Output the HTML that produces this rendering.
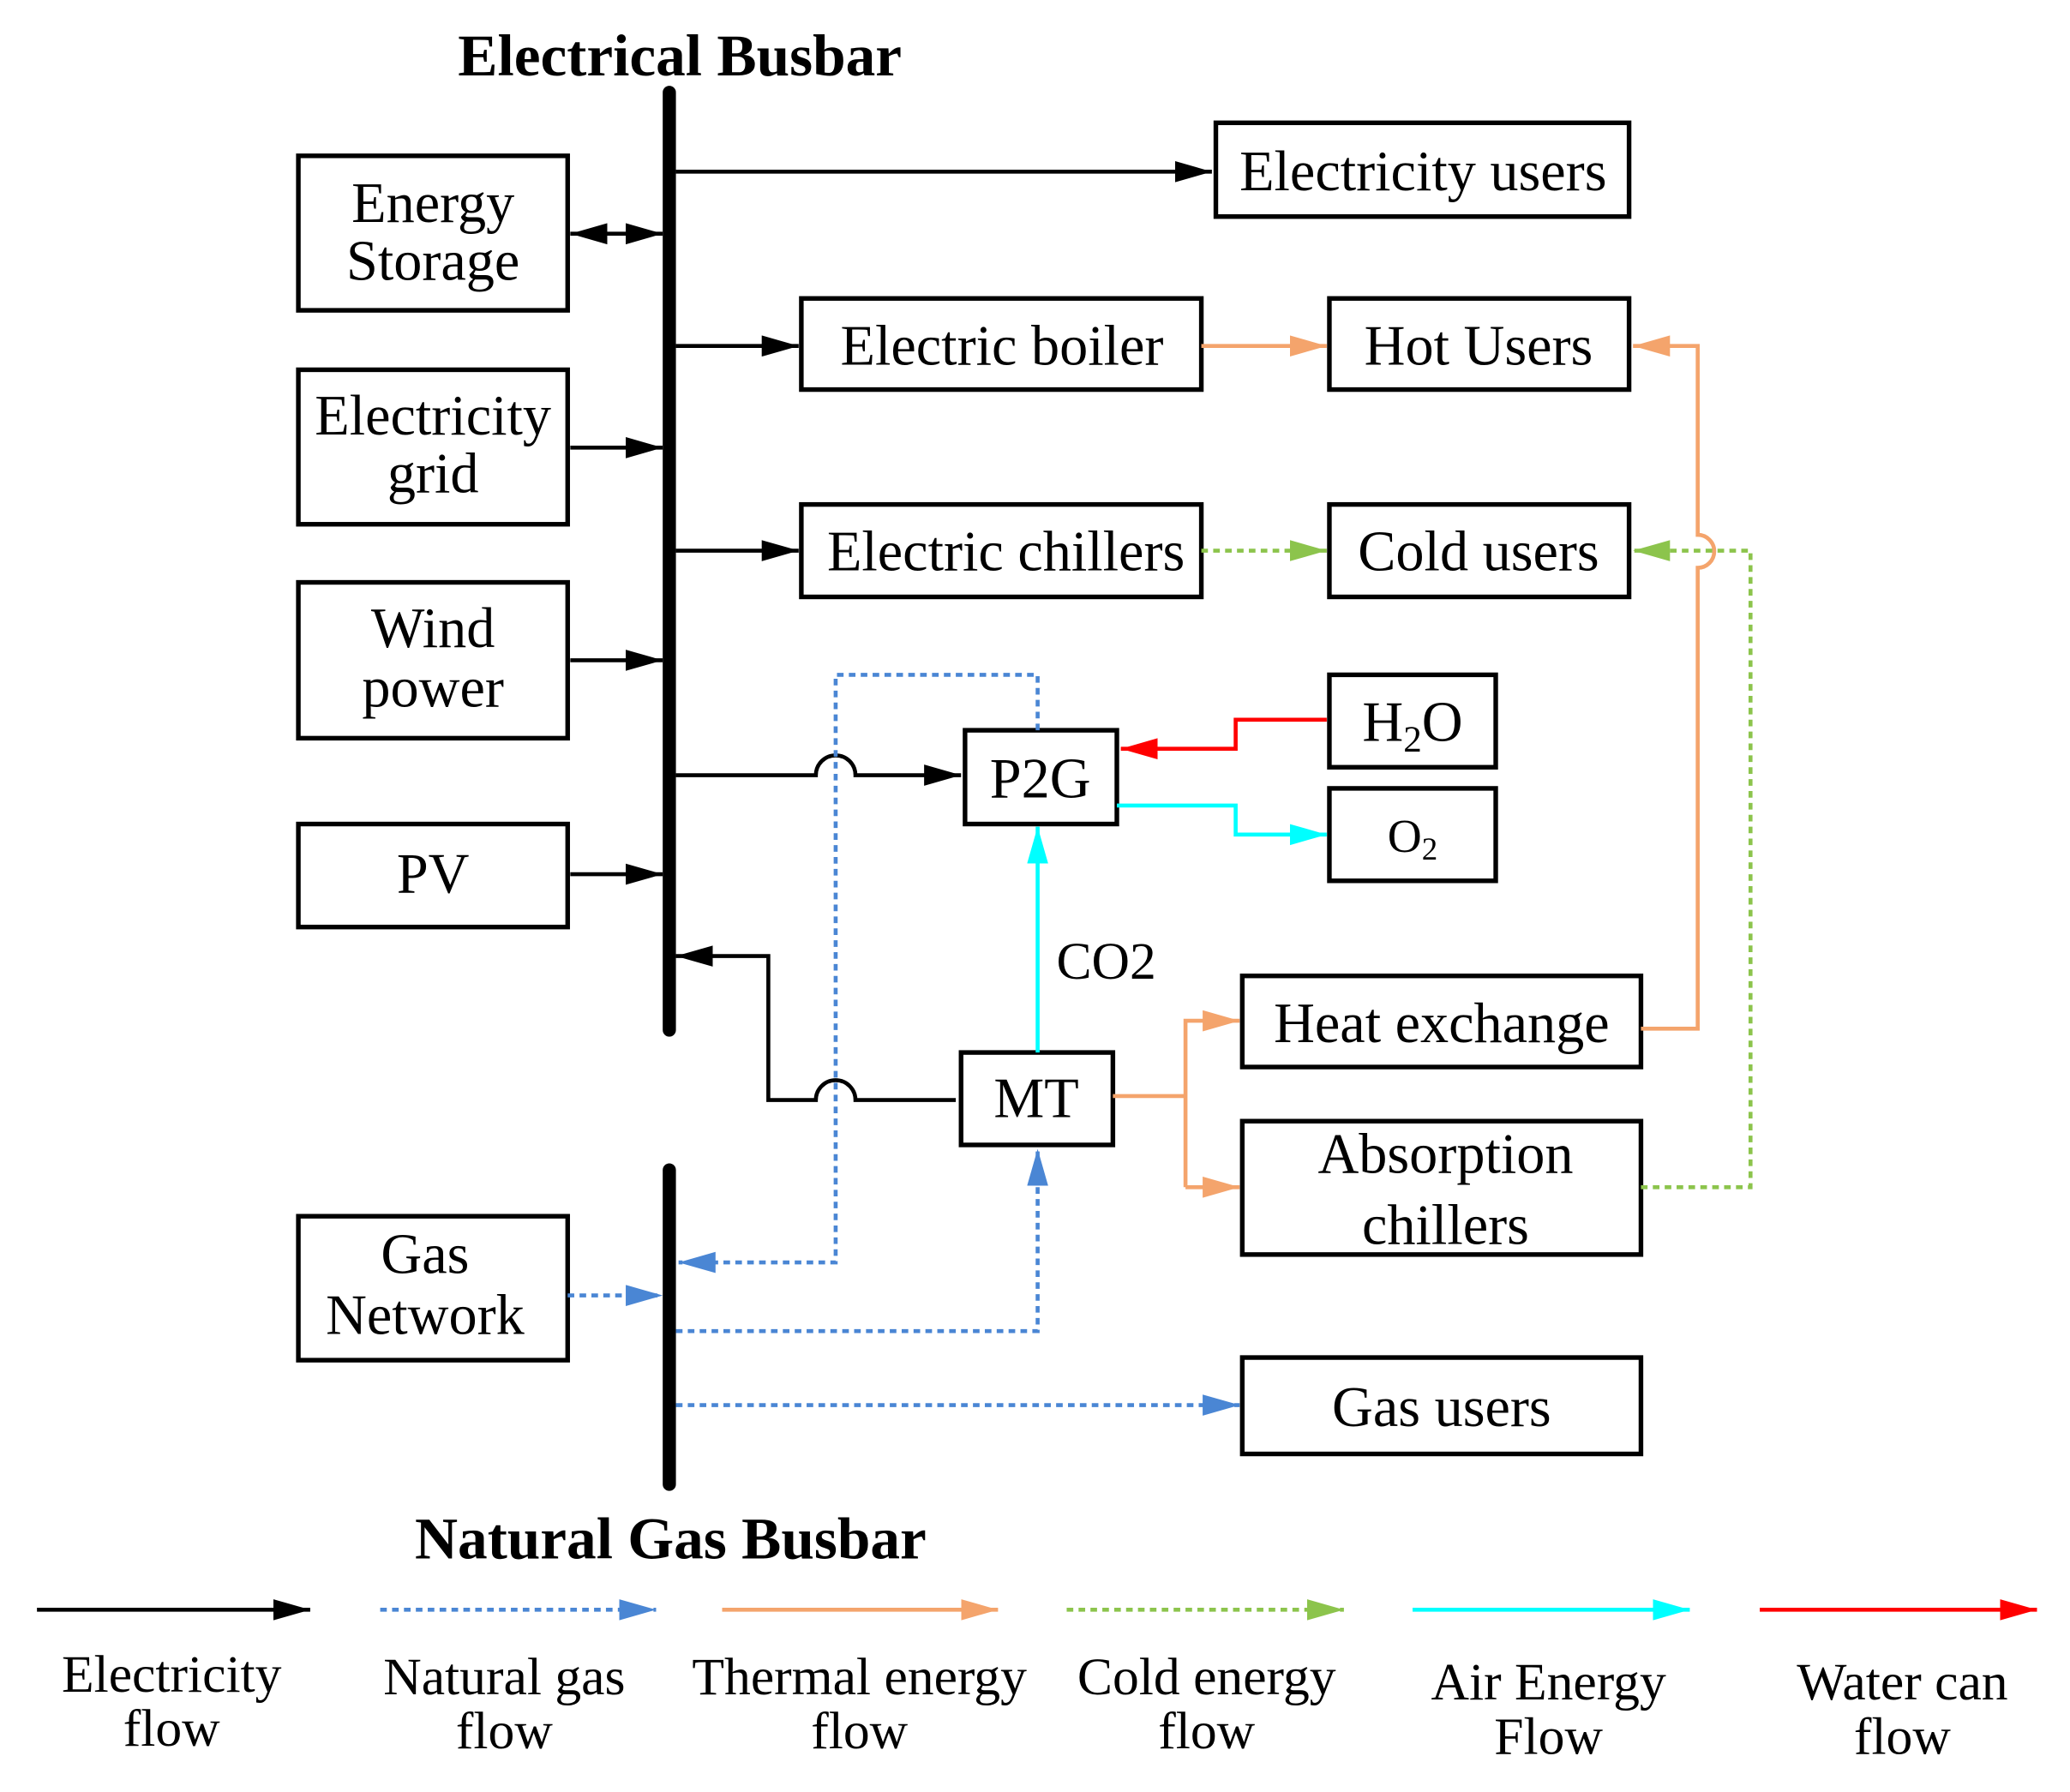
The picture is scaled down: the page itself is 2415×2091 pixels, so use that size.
<!DOCTYPE html>
<html><head><meta charset="utf-8"><style>html,body{margin:0;padding:0;background:#fff}svg{display:block}</style></head>
<body>
<svg width="2415" height="2091" viewBox="0 0 1568 1357" preserveAspectRatio="none" xmlns="http://www.w3.org/2000/svg" font-family="Liberation Serif, serif">
<defs>
<marker id="k" markerUnits="userSpaceOnUse" markerWidth="30" markerHeight="20" refX="28" refY="8" orient="auto"><path d="M0,0 L28,8 L0,16 Z" fill="#000"/></marker>
<marker id="ks" markerUnits="userSpaceOnUse" markerWidth="30" markerHeight="20" refX="0" refY="8" orient="auto"><path d="M28,0 L0,8 L28,16 Z" fill="#000"/></marker>
<marker id="b" markerUnits="userSpaceOnUse" markerWidth="30" markerHeight="20" refX="28" refY="8" orient="auto"><path d="M0,0 L28,8 L0,16 Z" fill="#4a86d4"/></marker>
<marker id="o" markerUnits="userSpaceOnUse" markerWidth="30" markerHeight="20" refX="28" refY="8" orient="auto"><path d="M0,0 L28,8 L0,16 Z" fill="#f4a46c"/></marker>
<marker id="g" markerUnits="userSpaceOnUse" markerWidth="30" markerHeight="20" refX="28" refY="8" orient="auto"><path d="M0,0 L28,8 L0,16 Z" fill="#8cc44c"/></marker>
<marker id="c" markerUnits="userSpaceOnUse" markerWidth="30" markerHeight="20" refX="28" refY="8" orient="auto"><path d="M0,0 L28,8 L0,16 Z" fill="#00ffff"/></marker>
<marker id="r" markerUnits="userSpaceOnUse" markerWidth="30" markerHeight="20" refX="28" refY="8" orient="auto"><path d="M0,0 L28,8 L0,16 Z" fill="#ff0000"/></marker>
</defs>
<rect width="1568" height="1357" fill="#fff"/>
<text x="515" y="57" font-size="45" font-weight="bold" text-anchor="middle">Electrical Busbar</text>
<text x="508" y="1180" font-size="45" font-weight="bold" text-anchor="middle">Natural Gas Busbar</text>
<line x1="507" y1="70" x2="507" y2="780" stroke="#000" stroke-width="10" stroke-linecap="round"/>
<line x1="507" y1="886" x2="507" y2="1124" stroke="#000" stroke-width="10" stroke-linecap="round"/>
<g fill="#fff" stroke="#000" stroke-width="3.5">
<rect x="226" y="118" width="204" height="117"/>
<rect x="226" y="280" width="204" height="117"/>
<rect x="226" y="441" width="204" height="118"/>
<rect x="226" y="624" width="204" height="78"/>
<rect x="226" y="921" width="204" height="109"/>
<rect x="921" y="93" width="313" height="71"/>
<rect x="607" y="226" width="303" height="69"/>
<rect x="1007" y="226" width="227" height="69"/>
<rect x="607" y="382" width="303" height="70"/>
<rect x="1007" y="382" width="227" height="70"/>
<rect x="1007" y="511" width="126" height="70"/>
<rect x="1007" y="597" width="126" height="70"/>
<rect x="731" y="553" width="115" height="71"/>
<rect x="728" y="797" width="115" height="70"/>
<rect x="941" y="739" width="302" height="69"/>
<rect x="941" y="849" width="302" height="101"/>
<rect x="941" y="1028" width="302" height="73"/>
</g>
<g font-size="43" text-anchor="middle">
<text x="328" y="168">Energy</text><text x="328" y="212">Storage</text>
<text x="328" y="329">Electricity</text><text x="328" y="373">grid</text>
<text x="328" y="490">Wind</text><text x="328" y="535">power</text>
<text x="328" y="676">PV</text>
<text x="322" y="964">Gas</text><text x="322" y="1010">Network</text>
<text x="1078" y="144">Electricity users</text>
<text x="759" y="276">Electric boiler</text>
<text x="1120" y="276">Hot Users</text>
<text x="762" y="432">Electric chillers</text>
<text x="1120" y="432">Cold users</text>
<text x="1070" y="561">H<tspan font-size="28" dy="8">2</tspan><tspan dy="-8">O</tspan></text>
<text x="1070" y="645" font-size="36">O<tspan font-size="24" dy="6">2</tspan></text>
<text x="788" y="604">P2G</text>
<text x="785" y="846">MT</text>
<text x="1092" y="789">Heat exchange</text>
<text x="1095" y="888">Absorption</text><text x="1095" y="942">chillers</text>
<text x="1092" y="1080">Gas users</text>
<text x="838" y="741" font-size="40">CO2</text>
</g>
<g fill="none" stroke-width="3">
<g stroke="#000">
<line x1="512" y1="130" x2="918" y2="130" marker-end="url(#k)"/>
<line x1="432" y1="177" x2="502" y2="177" marker-end="url(#k)" marker-start="url(#ks)"/>
<line x1="432" y1="339" x2="502" y2="339" marker-end="url(#k)"/>
<line x1="432" y1="500" x2="502" y2="500" marker-end="url(#k)"/>
<line x1="432" y1="662" x2="502" y2="662" marker-end="url(#k)"/>
<line x1="512" y1="262" x2="605" y2="262" marker-end="url(#k)"/>
<line x1="512" y1="417" x2="605" y2="417" marker-end="url(#k)"/>
<path d="M512,587 L618,587 A15,15 0 0 1 648,587 L728,587" marker-end="url(#k)"/>
<path d="M724,833 L648,833 A15,15 0 0 0 618,833 L582,833 L582,724 L512,724" marker-end="url(#k)"/>
</g>
<g stroke="#4a86d4" stroke-dasharray="5,4">
<path d="M786,553 L786,511 L633,511 L633,956 L514,956" marker-end="url(#b)"/>
<line x1="430" y1="981" x2="502" y2="981" marker-end="url(#b)"/>
<path d="M512,1008 L786,1008 L786,870" marker-end="url(#b)"/>
<line x1="512" y1="1064" x2="939" y2="1064" marker-end="url(#b)"/>
</g>
<g stroke="#f4a46c">
<line x1="910" y1="262" x2="1005" y2="262" marker-end="url(#o)"/>
<path d="M1243,779 L1286,779 L1286,430 A12,12 0 0 0 1286,405 L1286,262 L1237,262" marker-end="url(#o)"/>
<path d="M843,830 L898,830"/>
<path d="M898,899 L898,773 L939,773" marker-end="url(#o)"/>
<path d="M898,899 L939,899" marker-end="url(#o)"/>
</g>
<g stroke="#8cc44c" stroke-dasharray="5,4">
<line x1="910" y1="417" x2="1005" y2="417" marker-end="url(#g)"/>
<path d="M1243,899 L1326,899 L1326,417 L1237,417" marker-end="url(#g)"/>
</g>
<g stroke="#00ffff">
<line x1="786" y1="797" x2="786" y2="626" marker-end="url(#c)"/>
<path d="M846,610 L936,610 L936,632 L1005,632" marker-end="url(#c)"/>
</g>
<path stroke="#ff0000" d="M1005,545 L936,545 L936,567 L849,567" marker-end="url(#r)"/>
<line stroke="#000" x1="28" y1="1219" x2="235" y2="1219" marker-end="url(#k)"/>
<line stroke="#4a86d4" stroke-dasharray="5,4" x1="288" y1="1219" x2="497" y2="1219" marker-end="url(#b)"/>
<line stroke="#f4a46c" x1="547" y1="1219" x2="756" y2="1219" marker-end="url(#o)"/>
<line stroke="#8cc44c" stroke-dasharray="5,4" x1="808" y1="1219" x2="1018" y2="1219" marker-end="url(#g)"/>
<line stroke="#00ffff" x1="1070" y1="1219" x2="1280" y2="1219" marker-end="url(#c)"/>
<line stroke="#ff0000" x1="1333" y1="1219" x2="1543" y2="1219" marker-end="url(#r)"/>
</g>
<g font-size="40" text-anchor="middle">
<text x="130" y="1281">Electricity</text><text x="130" y="1322">flow</text>
<text x="382" y="1283">Natural gas</text><text x="382" y="1324">flow</text>
<text x="651" y="1283">Thermal energy</text><text x="651" y="1324">flow</text>
<text x="914" y="1283">Cold energy</text><text x="914" y="1324">flow</text>
<text x="1173" y="1287">Air Energy</text><text x="1173" y="1328">Flow</text>
<text x="1441" y="1287">Water can</text><text x="1441" y="1328">flow</text>
</g>
</svg>
</body></html>
